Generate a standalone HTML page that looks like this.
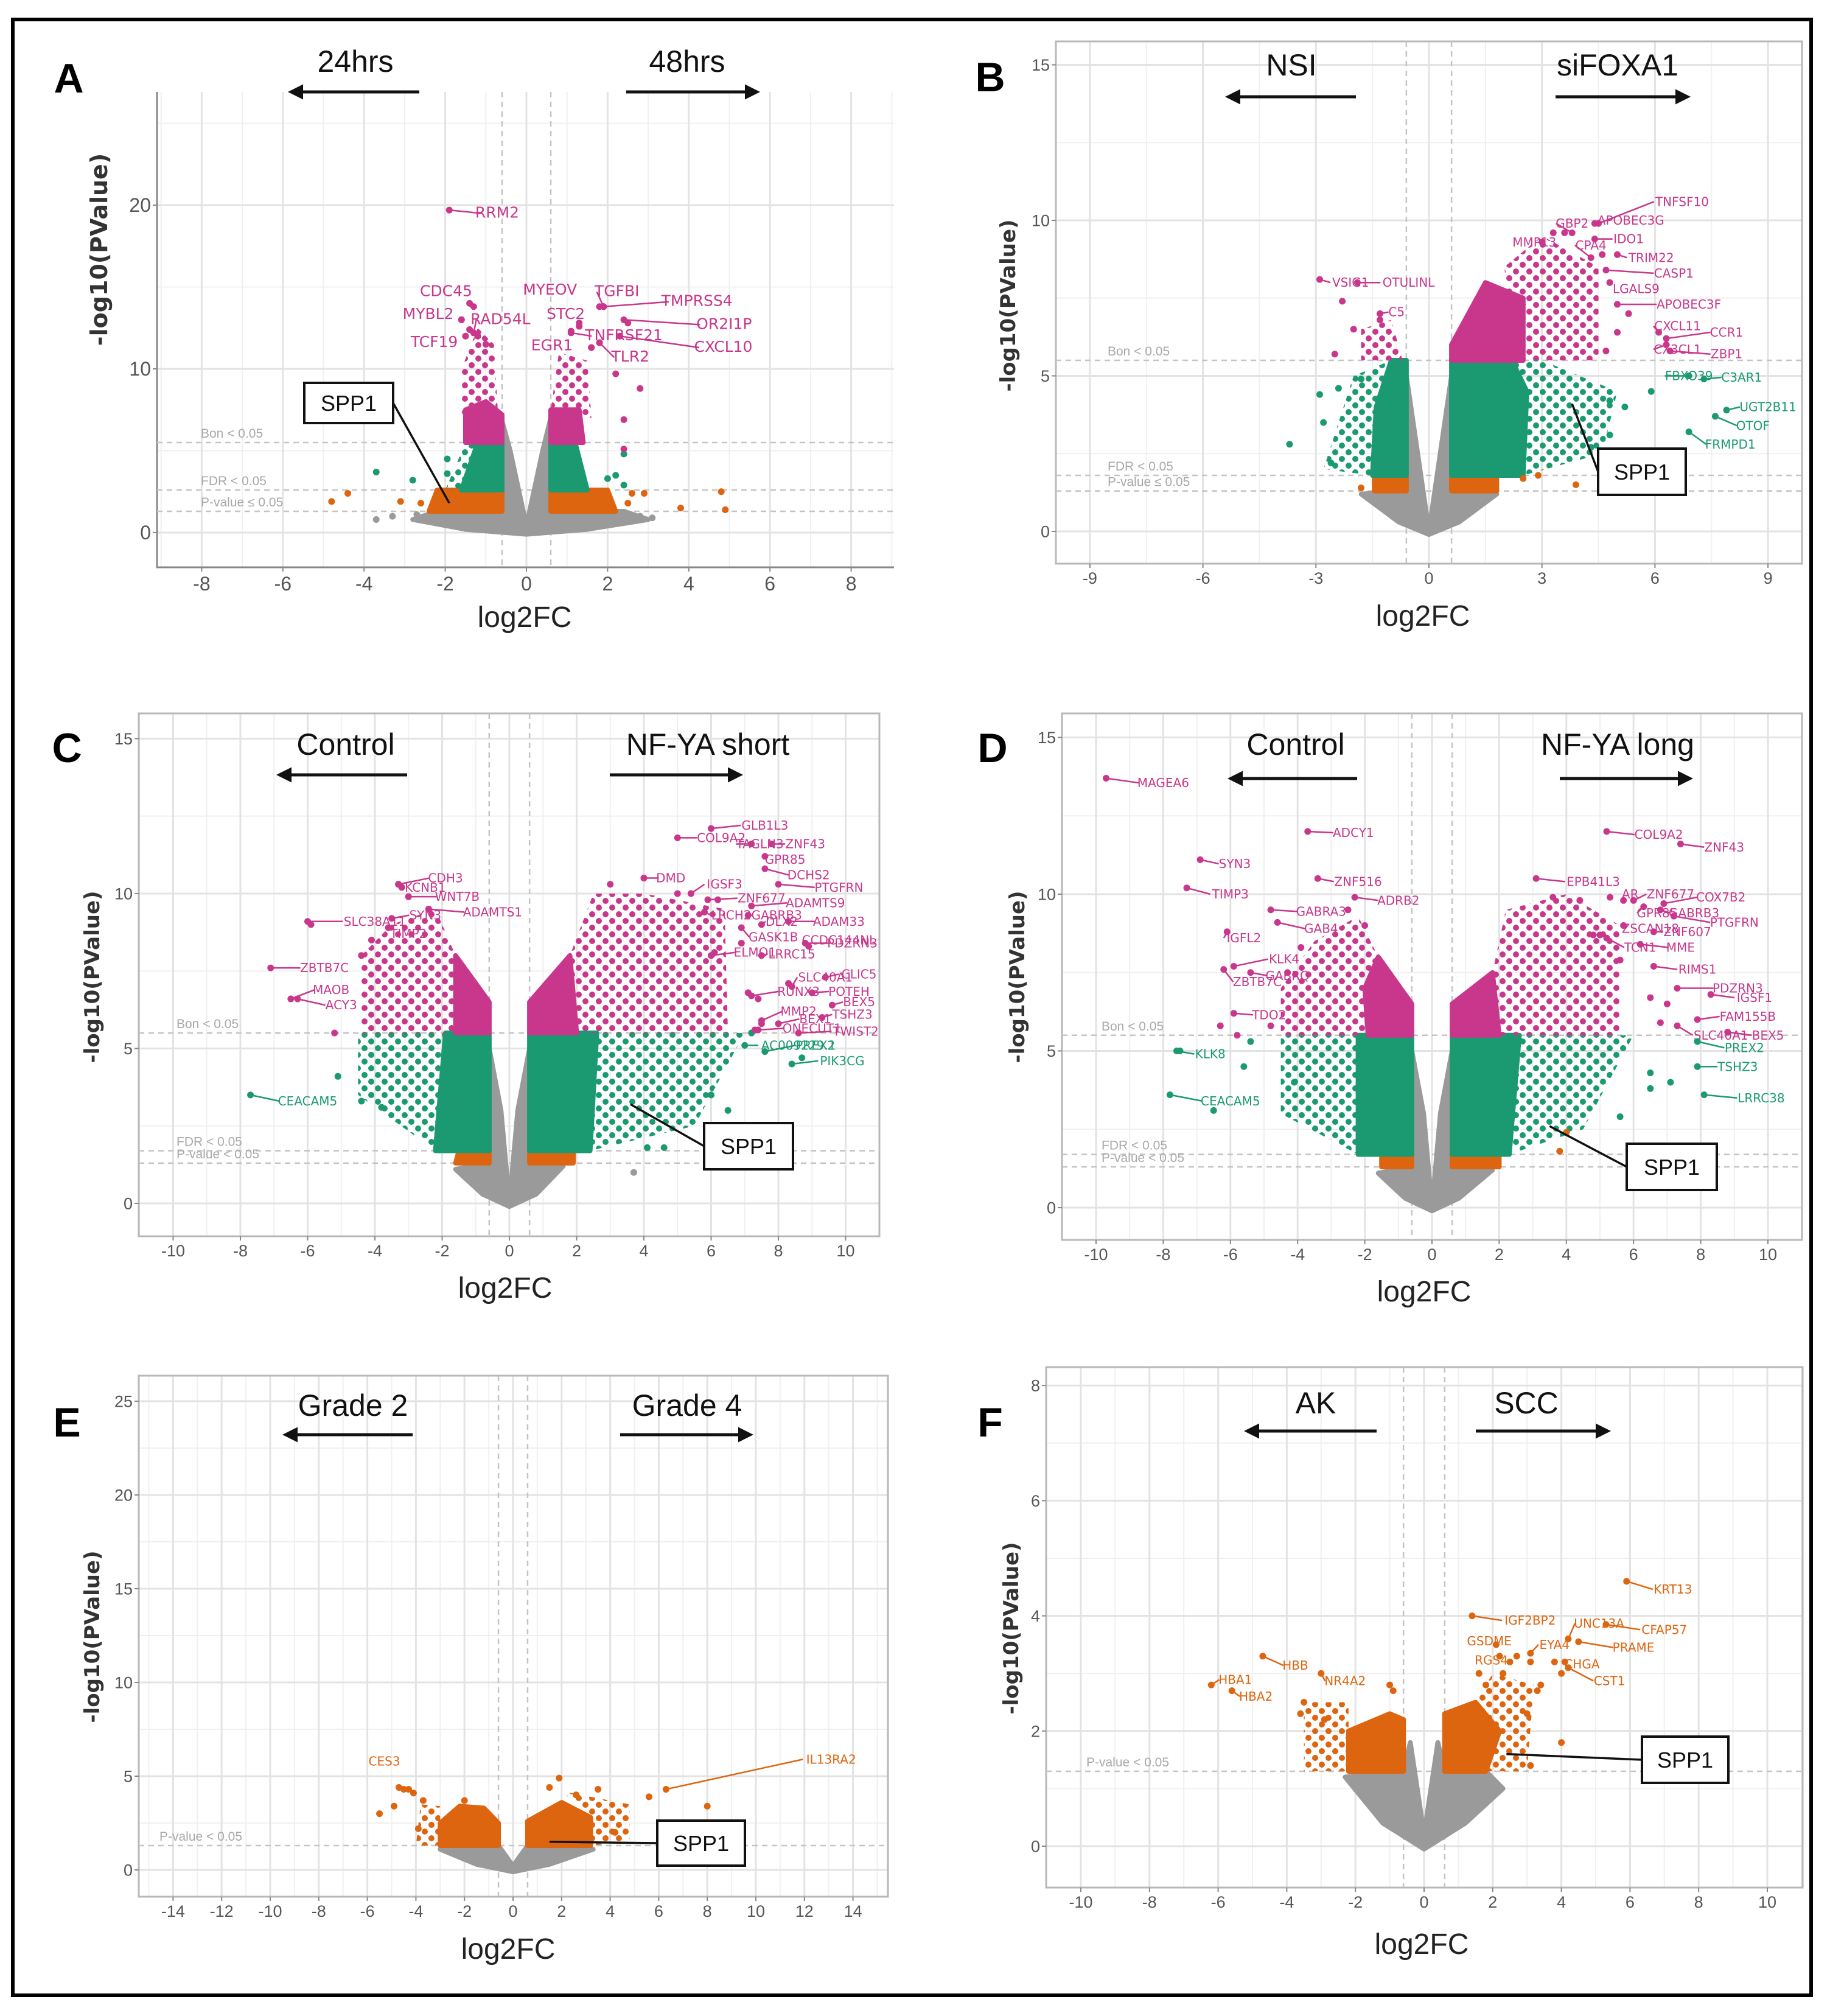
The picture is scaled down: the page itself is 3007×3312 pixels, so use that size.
<!DOCTYPE html>
<html><head><meta charset="utf-8"><title>Volcano plots A-F</title>
<style>
html,body{margin:0;padding:0;background:#fff;}
svg{display:block;}
</style></head>
<body>
<svg id="fig" xmlns="http://www.w3.org/2000/svg" width="3007" height="3312" viewBox="0 0 3007 3312">
<rect x="0" y="0" width="3007" height="3312" fill="#fff"/>
<rect x="21" y="32" width="2955" height="3246" fill="none" stroke="#000" stroke-width="6"/>
</svg>
<script>
// ---------- DATA ----------
// Panel A
const A_gene=["RRM2","CDC45","MYBL2","RAD54L","TCF19","MYEOV","TGFBI","TMPRSS4","STC2","OR2I1P","TNFRSF21","EGR1","CXCL10","TLR2"];
const A_gx=[-1.9,-1.4,-1.6,-1.3,-1.5,1.9,1.9,1.9,1.3,2.4,1.1,1.6,2.3,1.8];
const A_gy=[19.7,14.0,13.0,12.2,12.0,13.8,13.8,13.8,12.6,13.0,12.2,11.3,12.0,11.6];
const A_gc=["p","p","p","p","p","p","p","p","p","p","p","p","p","p"];
const A_lx=[-0.72,-1.98,-2.42,-0.64,-2.27,0.58,2.23,4.2,0.97,4.87,2.4,0.63,4.85,2.56];
const A_ly=[19.5,14.7,13.3,13.0,11.6,14.8,14.7,14.1,13.3,12.7,12.0,11.4,11.3,10.7];
const A_px=[-4.8,-4.4,-3.1,-2.6,2.6,2.9,3.8,4.8,4.9,2.5,-2.3,-3.7,-2.8,-1.95,-1.95,2.4,2.2,2.4,2.0,-3.7,-3.3,-2.7,3.1,2.8,-1.6,-1.3,-1.4,-1.2,-1.0,1.1,1.3,1.8,2.5,1.6,1.8,2.2,2.8,2.4,2.4];
const A_py=[1.9,2.4,1.9,1.8,2.4,2.4,1.5,2.5,1.4,1.8,1.5,3.7,3.2,4.5,3.6,4.8,3.5,2.9,3.3,0.8,1.0,1.1,0.9,1.0,13,13.8,12.4,12,11.5,12.3,12.8,13.8,12.8,11.3,11.6,9.7,8.8,6.9,5.1];
const A_pc=["o","o","o","o","o","o","o","o","o","o","o","g","g","g","g","g","g","g","g","x","x","x","x","x","p","p","p","p","p","p","p","p","p","p","p","p","p","p","p"];
const A_mass=[
 ["x","d",[[-2.8,0.8],[-2.2,1.3],[-0.6,1.3],[-0.6,6.8],[-0.4,5],[0,0.4],[0.4,5],[0.6,7],[0.6,1.3],[2.4,1.3],[3,0.8],[1.5,0.2],[0,-0.1],[-1.5,0.2]]],
 ["o","d",[[-2.4,1.3],[-0.6,1.3],[-0.6,2.6],[-2.2,2.6]]],
 ["o","d",[[0.6,1.3],[2.2,1.3],[2.0,2.6],[0.6,2.6]]],
 ["g","s",[[-2.0,2.6],[-1.6,2.6],[-1.2,5.5],[-1.5,5.5]]],
 ["g","d",[[-1.6,2.6],[-0.6,2.6],[-0.6,5.5],[-1.2,5.5]]],
 ["g","d",[[0.6,2.6],[1.5,2.6],[1.2,5.5],[0.6,5.5]]],
 ["p","d",[[-1.5,5.5],[-0.6,5.5],[-0.6,7.2],[-1.0,8],[-1.5,7.5]]],
 ["p","s",[[-1.6,7],[-0.7,7.2],[-0.8,11.5],[-1.2,12.5],[-1.6,10]]],
 ["p","d",[[0.6,5.5],[1.4,5.5],[1.3,7.5],[0.6,7.5]]],
 ["p","s",[[0.6,7.5],[1.6,7],[1.5,10.5],[0.8,11]]]
];
// Panel B
const B_gene=["TNFSF10","APOBEC3G","GBP2","MMP13","CPA4","IDO1","TRIM22","CASP1","LGALS9","APOBEC3F","CXCL11","CCR1","CX3CL1","ZBP1","FBXO39","C3AR1","UGT2B11","OTOF","FRMPD1","VSIG1","OTULINL","C5"];
const B_gx=[4.5,4.4,3.8,3.0,4.3,4.4,5.0,4.7,4.8,5.0,6.1,6.3,6.3,6.4,6.9,7.3,7.9,7.6,6.9,-2.9,-1.9,-1.3];
const B_gy=[9.9,9.9,9.6,9.3,8.8,9.4,8.9,8.4,8.0,7.3,6.4,6.2,6.0,5.8,5.0,4.9,3.9,3.7,3.2,8.1,8.0,7.0];
const B_gc=["p","p","p","p","p","p","p","p","p","p","p","p","p","p","g","g","g","g","g","p","p","p"];
const B_lx=[6.72,5.36,3.8,2.8,4.3,5.3,5.9,6.5,5.5,6.9,6.6,7.9,6.6,7.9,6.9,8.3,9.0,8.6,8.0,-2.08,-0.54,-0.86];
const B_ly=[10.6,10.0,9.9,9.3,9.2,9.4,8.8,8.3,7.8,7.3,6.6,6.4,5.85,5.7,5.0,4.95,4.0,3.4,2.8,8.0,8.0,7.05];
const B_px=[-3.7,-2.8,-2.6,-2.4,-2.9,5.9,5.2,4.8,4.8,-1.8,4.3,-1.8,2.5,2.9,3.9,-2.3,-2.5,-2.0,-1.3,3.3,3.6,4.6,5.3,4.7,5.0];
const B_py=[2.8,3.5,2.2,4.6,4.4,4.5,4.0,4.2,3.1,4.9,2.7,1.4,1.7,1.8,1.5,7.4,5.7,6.5,6.8,9.6,9.6,8.9,7.0,5.8,6.4];
const B_pc=["g","g","g","g","g","g","g","g","g","g","g","o","o","o","o","p","p","p","p","p","p","p","p","p","p"];
const B_mass=[
 ["x","d",[[-1.8,1.2],[-0.6,1.3],[-0.6,5],[0,0],[0.6,5],[0.6,1.3],[1.8,1.2],[0.8,0.3],[0,-0.1],[-0.8,0.3]]],
 ["o","d",[[-1.45,1.3],[-0.6,1.3],[-0.6,1.8],[-1.45,1.8]]],
 ["o","d",[[0.6,1.3],[1.8,1.3],[1.8,1.8],[0.6,1.8]]],
 ["g","s",[[-2.8,2],[-1.5,1.8],[-1.4,4],[-1.0,5.5],[-2,5]]],
 ["g","d",[[-1.5,1.8],[-0.6,1.8],[-0.6,5.5],[-1.0,5.5],[-1.4,4]]],
 ["g","s",[[2.5,1.8],[4.6,2.5],[5,4.5],[3,5.5],[2.2,5.5]]],
 ["g","d",[[0.6,1.8],[2.5,1.8],[2.6,4.5],[2.2,5.5],[0.6,5.5]]],
 ["p","s",[[-1.8,5.5],[-0.7,5.5],[-1,6.8],[-1.8,6.5]]],
 ["p","s",[[2.3,5.5],[4.5,5.5],[4.5,8.5],[3,9.5],[2,8.5]]],
 ["p","d",[[0.6,5.5],[2.5,5.5],[2.5,7.5],[1.5,8],[0.6,6]]]
];
// Panel C
const C_gene=["GLB1L3","COL9A2","TAGLN3","ZNF43","GPR85","DCHS2","PTGFRN","DMD","IGSF3","ZNF677","ADAMTS9","LRCH2","GABRB3","DLX2","ADAM33","GASK1B","CCDC144NL","PDZRN3","ELMO1","LRRC15","CLIC5","SLC40A1","RUNX3","POTEH","BEX5","MMP2","TSHZ3","BEX1","ONECUT1","TWIST2","AC009229.1","PREX2","PIK3CG","CDH3","KCNB1","WNT7B","ADAMTS1","SLC38A11","SYN3","TIMP2","ZBTB7C","MAOB","ACY3","CEACAM5"];
const C_gx=[6.0,5.0,7.2,7.8,7.6,7.6,8.0,4.0,5.4,5.9,7.2,5.8,7.1,7.5,8.3,6.9,8.9,8.8,6.0,7.5,9.4,8.4,7.2,9.0,9.6,7.5,9.3,8.0,7.4,8.6,7.0,7.6,8.4,-3.3,-3.2,-3.0,-2.4,-6.0,-3.5,-3.6,-7.1,-6.5,-6.3,-7.7];
const C_gy=[12.1,11.8,11.6,11.6,11.2,10.8,10.3,10.5,10.0,9.8,9.6,9.4,9.3,9.0,9.1,8.9,8.3,8.4,8.0,8.0,7.3,7.0,6.7,6.8,6.4,5.9,6.0,5.8,5.6,5.5,5.1,4.9,4.5,10.3,10.2,9.9,9.5,9.1,9.2,8.9,7.6,6.6,6.6,3.5];
const C_gc=["p","p","p","p","p","p","p","p","p","p","p","p","p","p","p","p","p","p","p","p","p","p","p","p","p","p","p","p","p","p","g","g","g","p","p","p","p","p","p","p","p","p","p","g"];
const C_lx=[7.6,6.3,7.45,8.8,8.2,8.9,9.8,4.8,6.4,7.5,9.1,6.6,7.95,8.1,9.8,7.85,9.8,10.2,7.3,8.4,10.4,9.4,8.6,10.1,10.4,8.6,10.2,9.1,9.0,10.3,8.6,9.1,9.9,-1.9,-2.5,-1.55,-0.5,-4.0,-2.5,-3.0,-5.5,-5.3,-5.0,-6.0];
const C_ly=[12.2,11.8,11.6,11.6,11.1,10.6,10.2,10.5,10.3,9.85,9.7,9.3,9.3,9.1,9.1,8.6,8.5,8.4,8.1,8.05,7.4,7.3,6.84,6.84,6.5,6.2,6.1,5.95,5.65,5.55,5.1,5.1,4.6,10.5,10.2,9.9,9.4,9.1,9.3,8.7,7.6,6.9,6.4,3.3];
const C_px=[-5.1,-4.4,-3.8,8.7,6.5,6.0,4.1,4.6,7.2,3.7,-5.9,-4.4,-4.1,-3.9,-5.2,-3.3,-3.0,-2.4,3.0,4.0,5.0,6.2,6.1,6.9,7.1,7.4,8.3,7.5,7.3];
const C_py=[4.1,3.3,3.1,4.7,3.0,3.5,1.8,1.8,5.5,1.0,9.0,8.0,8.5,7.6,5.5,10.3,9.9,9.5,10.3,10.5,10.0,9.8,8.1,8.4,6.8,6.6,7.1,5.8,5.6];
const C_pc=["g","g","g","g","g","g","g","g","g","x","p","p","p","p","p","p","p","p","p","p","p","p","p","p","p","p","p","p","p"];
const C_mass=[
 ["x","d",[[-1.6,1.1],[-0.6,1.3],[-0.6,5],[-0.25,3],[0,0],[0.25,3],[0.6,5],[0.6,1.3],[1.6,1.2],[0.8,0.3],[0,-0.1],[-0.8,0.3]]],
 ["o","d",[[-1.6,1.3],[-0.6,1.3],[-0.6,1.7],[-1.5,1.7]]],
 ["o","d",[[0.6,1.3],[1.9,1.3],[1.9,1.7],[0.6,1.7]]],
 ["g","s",[[-4.5,3.5],[-2.2,1.7],[-1.9,5.5],[-4.5,5.5]]],
 ["g","d",[[-2.2,1.7],[-0.6,1.7],[-0.6,5.5],[-1.9,5.5]]],
 ["g","s",[[2.4,1.7],[5.5,2.5],[7,5.5],[2.6,5.5]]],
 ["g","d",[[0.6,1.7],[2.4,1.7],[2.6,5.5],[0.6,5.5]]],
 ["p","s",[[-4.4,5.5],[-1.6,5.5],[-1.6,8],[-2.2,9.5],[-3.5,9],[-4.4,8]]],
 ["p","d",[[-1.6,5.5],[-0.6,5.5],[-0.6,6.5],[-1.6,8]]],
 ["p","s",[[2.0,5.5],[6.5,5.5],[6.4,9.5],[4,10],[2.5,10],[1.8,8]]],
 ["p","d",[[0.6,5.5],[2.0,5.5],[1.8,8],[0.6,6.5]]]
];
// Panel D
const D_gene=["MAGEA6","ADCY1","SYN3","TIMP3","ZNF516","ADRB2","GABRA3","GAB4","IGFL2","KLK4","GABRQ","ZBTB7C","TDO2","KLK8","CEACAM5","COL9A2","ZNF43","EPB41L3","AR","ZNF677","COX7B2","GPR85","GABRB3","PTGFRN","ZSCAN18","ZNF607","TCN1","MME","RIMS1","PDZRN3","IGSF1","FAM155B","SLC40A1","BEX5","PREX2","TSHZ3","LRRC38"];
const D_gx=[-9.7,-3.7,-6.9,-7.3,-3.4,-2.3,-4.8,-4.6,-6.1,-5.9,-5.4,-6.2,-5.9,-7.6,-7.8,5.2,7.4,3.1,5.7,6.0,6.9,6.3,6.8,7.2,5.7,6.6,5.2,6.2,6.6,7.3,8.3,7.9,7.3,8.8,7.9,7.9,8.1];
const D_gy=[13.7,12.0,11.1,10.2,10.5,9.9,9.5,9.1,8.8,7.7,7.5,7.6,6.2,5.0,3.6,12.0,11.6,10.5,9.8,9.8,9.7,9.6,9.5,9.3,9.0,8.8,8.6,8.4,7.7,7.0,6.8,6.0,5.8,5.6,5.3,4.5,3.6];
const D_gc=["p","p","p","p","p","p","p","p","p","p","p","p","p","g","g","p","p","p","p","p","p","p","p","p","p","p","p","p","p","p","p","p","p","p","g","g","g"];
const D_lx=[-8.0,-2.34,-5.87,-6.0,-2.2,-1.0,-3.3,-3.3,-5.6,-4.4,-4.3,-5.2,-4.85,-6.6,-6.0,6.75,8.7,4.8,5.9,7.1,8.6,6.7,7.8,9.0,6.5,7.6,6.2,7.4,7.9,9.1,9.6,9.4,8.6,10.0,9.3,9.1,9.8];
const D_ly=[13.55,11.96,10.97,10.0,10.4,9.8,9.45,8.9,8.6,7.93,7.4,7.2,6.15,4.9,3.4,11.9,11.5,10.4,10.0,10.0,9.9,9.4,9.4,9.1,8.9,8.8,8.3,8.3,7.6,7.0,6.7,6.1,5.5,5.5,5.1,4.5,3.5];
const D_px=[-6.5,-7.5,-5.6,-5.4,-4.1,6.5,6.5,7.1,5.6,3.8,4.0,-6.3,-5.8,-4.8,-3.9,-4.3,-2.5,-2.0,5.3,5.0,5.6,6.5,7.0,6.8,4.8,3.6,4.4];
const D_py=[3.1,5.0,4.5,5.3,4.0,3.8,4.3,4.0,2.9,1.8,2.4,5.8,5.5,5.8,8.3,7.5,9.5,9.0,9.9,8.7,7.9,6.7,6.5,5.9,8.7,9.9,9.8];
const D_pc=["g","g","g","g","g","g","g","g","g","o","o","p","p","p","p","p","p","p","p","p","p","p","p","p","p","p","p"];
const D_mass=[
 ["x","d",[[-1.6,1.1],[-0.6,1.3],[-0.6,5],[-0.25,3],[0,0],[0.25,3],[0.6,5],[0.6,1.3],[1.8,1.2],[0.8,0.3],[0,-0.1],[-0.8,0.3]]],
 ["o","d",[[-1.5,1.3],[-0.6,1.3],[-0.6,1.7],[-1.5,1.7]]],
 ["o","d",[[0.6,1.3],[2.0,1.3],[2.0,1.7],[0.6,1.7]]],
 ["g","s",[[-4.5,3],[-2.2,1.7],[-2.2,5.5],[-4.5,5.5]]],
 ["g","d",[[-2.2,1.7],[-0.6,1.7],[-0.6,5.5],[-2.2,5.5]]],
 ["g","s",[[2.3,1.7],[4.5,2.5],[6,5.5],[2.6,5.5]]],
 ["g","d",[[0.6,1.7],[2.3,1.7],[2.6,5.5],[0.6,5.5]]],
 ["p","s",[[-4.5,5.5],[-1.9,5.5],[-1.6,8],[-2.2,9.3],[-3.5,8.5],[-4.5,7]]],
 ["p","d",[[-1.9,5.5],[-0.6,5.5],[-0.6,6.5],[-1.6,8],[-2,7]]],
 ["p","s",[[2.0,5.5],[5.6,5.5],[5.6,9],[4,10],[2.2,9.5],[1.8,7.5]]],
 ["p","d",[[0.6,5.5],[2.0,5.5],[1.8,7.5],[0.6,6.5]]]
];
// Panel E
const E_gene=["CES3","IL13RA2"];
const E_gx=[-4.5,6.3];
const E_gy=[4.3,4.3];
const E_gc=["o","o"];
const E_lx=[-5.3,13.1];
const E_ly=[5.8,5.9];
const E_px=[-5.5,-4.9,-4.3,-4.1,-3.7,5.6,8.0,1.9,3.5,-2.0,-4.7,4.2,-3.9,2.6,1.5];
const E_py=[3.0,3.4,4.3,4.1,3.7,3.9,3.4,4.9,4.3,3.7,4.4,2.0,2.2,4.0,4.4];
const E_pc=["o","o","o","o","o","o","o","o","o","o","o","o","o","o","o"];
const E_mass=[
 ["x","d",[[-3,1.1],[-0.6,1.3],[0,0.2],[0.6,1.3],[3.3,1.1],[1.5,0.3],[0,-0.1],[-1.5,0.3]]],
 ["o","s",[[-4,1.3],[-3,1.3],[-3,3.4],[-3.8,3.5]]],
 ["o","s",[[3.2,1.3],[4.8,1.5],[4.8,3.5],[2,4.2],[3.2,2.8]]],
 ["o","d",[[-3,1.3],[-0.6,1.3],[-0.6,2.5],[-1.2,3.3],[-2.2,3.4],[-3,2.5]]],
 ["o","d",[[0.6,1.3],[3.2,1.3],[3.2,2.8],[2,3.6],[0.6,2.6]]]
];
// Panel F
const F_gene=["KRT13","IGF2BP2","UNC13A","CFAP57","GSDME","EYA4","PRAME","RGS4","CHGA","CST1","HBB","HBA1","HBA2","NR4A2"];
const F_gx=[5.9,1.4,4.2,5.3,2.1,3.1,4.5,2.2,4.1,4.2,-4.7,-6.2,-5.6,-3.0];
const F_gy=[4.6,4.0,3.6,3.85,3.5,3.35,3.55,3.3,3.2,3.1,3.3,2.8,2.7,3.0];
const F_gc=["o","o","o","o","o","o","o","o","o","o","o","o","o","o"];
const F_lx=[7.25,3.09,5.1,7.0,1.9,3.8,6.1,1.96,4.6,5.4,-3.75,-5.5,-4.9,-2.3];
const F_ly=[4.46,3.92,3.87,3.76,3.56,3.5,3.45,3.23,3.16,2.87,3.14,2.89,2.6,2.87];
const F_px=[-3.5,-3.6,-2.9,-1.0,-0.9,2.3,2.5,2.7,3.1,3.4,3.3,3.8,4.0,3.0,4.0,3.1,1.8,1.6];
const F_py=[2.5,2.3,2.2,2.8,2.7,3.0,3.2,3.3,3.2,2.8,2.7,3.2,3.0,2.3,1.8,1.4,2.8,3.0];
const F_pc=["o","o","o","o","o","o","o","o","o","o","o","o","o","o","o","o","o","o"];
const F_mass=[
 ["x","d",[[-2.3,1.2],[-1.0,1.3],[-0.6,1.3],[-0.4,1.8],[0,0.2],[0.4,1.8],[0.6,1.3],[1.8,1.3],[2.3,1.0],[1.2,0.4],[0,-0.05],[-1.2,0.4]]],
 ["o","s",[[-3.5,1.3],[-2.2,1.3],[-2.2,2.5],[-3.5,2.5]]],
 ["o","s",[[1.8,1.3],[3,1.3],[3.2,2.8],[2,3.0],[1.5,2.5]]],
 ["o","d",[[-2.2,1.3],[-0.6,1.3],[-0.6,2.2],[-1.0,2.3],[-2.2,2.0]]],
 ["o","d",[[0.6,1.3],[1.8,1.3],[2.2,2.0],[1.5,2.5],[0.6,2.3]]]
];
// Axis tick values
const A_xt=[-8,-6,-4,-2,0,2,4,6,8], A_yt=[0,10,20];
const B_xt=[-9,-6,-3,0,3,6,9], B_yt=[0,5,10,15];
const C_xt=[-10,-8,-6,-4,-2,0,2,4,6,8,10], C_yt=[0,5,10,15];
const D_xt=[-10,-8,-6,-4,-2,0,2,4,6,8,10], D_yt=[0,5,10,15];
const E_xt=[-14,-12,-10,-8,-6,-4,-2,0,2,4,6,8,10,12,14], E_yt=[0,5,10,15,20,25];
const F_xt=[-10,-8,-6,-4,-2,0,2,4,6,8,10], F_yt=[0,2,4,6,8];
const A_thr=[5.5,2.6,1.3], A_thrLab=["Bon < 0.05","FDR < 0.05","P-value ≤ 0.05"];
const B_thr=[5.5,1.8,1.3], B_thrLab=["Bon < 0.05","FDR < 0.05","P-value ≤ 0.05"];
const C_thr=[5.5,1.7,1.3], C_thrLab=["Bon < 0.05","FDR < 0.05","P-value < 0.05"];
const D_thr=[5.5,1.7,1.3], D_thrLab=["Bon < 0.05","FDR < 0.05","P-value < 0.05"];
const E_thr=[1.3], E_thrLab=["P-value < 0.05"];
const F_thr=[1.3], F_thrLab=["P-value < 0.05"];
const A_spp1=[-1.9,1.8], B_spp1=[3.8,4.1], C_spp1=[3.6,3.2], D_spp1=[3.5,2.6], E_spp1=[1.5,1.5], F_spp1=[2.4,1.6];

// ---------- LAYOUT ----------
const LAY={
 A:{x0:865,xs:66.7,y0:875,ys:26.9,rect:[258,151,1469,932],xmin:-1,ystep:5,xstep:1,border:false,letter:[113,152],
    tl:["24hrs",584,118,689,483,151],tr:["48hrs",1129,118,1029,1239,151],yt:[176,410],xtl:[862,1030],thx:330,box:[500,629,146,66],tickfs:32},
 B:{x0:2348,xs:61.9,y0:873,ys:51.1,rect:[1735,68,2961,926],ystep:2.5,xstep:1.5,border:true,letter:[1627,150],
    tl:["NSI",2122,124,2228,2023,159],tr:["siFOXA1",2658,124,2556,2768,159],yt:[1668,502],xtl:[2338,1028],thx:1820,box:[2626,737,144,76],tickfs:27},
 C:{x0:837,xs:55.25,y0:1977,ys:50.9,rect:[228,1172,1445,2031],ystep:2.5,xstep:1,border:true,letter:[110,1252],
    tl:["Control",568,1240,669,464,1273],tr:["NF-YA short",1163,1240,1002,1211,1273],yt:[163,1605],xtl:[830,2132],thx:290,box:[1157,1845,146,76],tickfs:27},
 D:{x0:2353,xs:55.2,y0:1984,ys:51.5,rect:[1745,1172,2961,2037],ystep:2.5,xstep:1,border:true,letter:[1631,1252],
    tl:["Control",2129,1240,2230,2027,1279],tr:["NF-YA long",2658,1240,2563,2772,1279],yt:[1683,1605],xtl:[2340,2138],thx:1810,box:[2673,1879,148,76],tickfs:27},
 E:{x0:843,xs:39.9,y0:3072,ys:30.8,rect:[228,2260,1459,3116],ystep:2.5,xstep:1,border:true,letter:[110,2360],
    tl:["Grade 2",580,2326,678,474,2357],tr:["Grade 4",1129,2326,1019,1228,2357],yt:[163,2689],xtl:[835,3218],thx:262,box:[1080,2991,144,74],tickfs:27},
 F:{x0:2340,xs:56.4,y0:3033,ys:94.6,rect:[1719,2246,2962,3101],ystep:1,xstep:1,border:true,letter:[1627,2360],
    tl:["AK",2162,2322,2262,2054,2351],tr:["SCC",2508,2322,2425,2637,2351],yt:[1673,2675],xtl:[2336,3210],thx:1785,box:[2698,2853,142,76],tickfs:27}
};
const COL={p:"#c8378c",g:"#1b9a72",o:"#dd6510",x:"#9a9a9a"};
const NS="http://www.w3.org/2000/svg";
const svg=document.getElementById("fig");
function mk(tag,attrs,parent){const e=document.createElementNS(NS,tag);for(const k in attrs)e.setAttribute(k,attrs[k]);parent.appendChild(e);return e;}

// patterns
const defs=mk("defs",{},svg);
for(const c in COL){
  const pat=mk("pattern",{id:"pat-"+c,width:22,height:22,patternUnits:"userSpaceOnUse"},defs);
  mk("circle",{cx:5,cy:6,r:5,fill:COL[c]},pat);
  mk("circle",{cx:16,cy:17,r:5,fill:COL[c]},pat);
}
// arrowhead
const mkr=mk("marker",{id:"arrowhead",markerWidth:6,markerHeight:6,refX:3,refY:3,orient:"auto",markerUnits:"strokeWidth"},defs);
mk("path",{d:"M0,0.5 L5,3 L0,5.5 Z",fill:"#111"},mkr);

function drawPanel(id,L,gene,gx,gy,gc,lx,ly,px,py,pc,mass,xt,yt,thr,thrLab,spp1){
  const X=v=>L.x0+v*L.xs, Y=v=>L.y0-v*L.ys;
  const [l,t,r,b]=L.rect;
  const g=mk("g",{},svg);
  
  
  const cp=mk("clipPath",{id:"clip-"+id},defs);
  mk("rect",{x:l,y:t,width:r-l,height:b-t},cp);
  // minor + major grid
  const grid=mk("g",{},g);
  
  
  const xlo=(l-L.x0)/L.xs, xhi=(r-L.x0)/L.xs, ylo=(L.y0-b)/L.ys, yhi=(L.y0-t)/L.ys;
  for(let v=Math.ceil(xlo/L.xstep)*L.xstep; v<=xhi; v+=L.xstep){
    const ln=mk("line",{x1:X(v),x2:X(v),y1:t,y2:b,stroke:"#f0f0f0","stroke-width":2},grid);
    
    
  }
  for(let v=Math.ceil(ylo/L.ystep)*L.ystep; v<=yhi; v+=L.ystep){
    const ln=mk("line",{x1:l,x2:r,y1:Y(v),y2:Y(v),stroke:"#f0f0f0","stroke-width":2},grid);
    
    
  }
  xt.forEach(v=>{
    const ln=mk("line",{x1:X(v),x2:X(v),y1:t,y2:b,stroke:"#e3e3e3","stroke-width":3},grid);
    
    
  });
  yt.forEach(v=>{
    const ln=mk("line",{x1:l,x2:r,y1:Y(v),y2:Y(v),stroke:"#e3e3e3","stroke-width":3},grid);
    
    
  });
  // border / axes
  if(L.border){
    const br=mk("rect",{x:l,y:t,width:r-l,height:b-t,fill:"none",stroke:"#b8b8b8","stroke-width":3},g);
    
    
  }else{
    const ax=mk("path",{d:`M${l},${t} L${l},${b} L${r},${b}`,fill:"none",stroke:"#888","stroke-width":3},g);
    
    
  }
  // ticks
  xt.forEach(v=>{
    const tk=mk("line",{x1:X(v),x2:X(v),y1:b,y2:b+7,stroke:"#888","stroke-width":2},g);
    
    
    const tx=mk("text",{x:X(v),y:b+L.tickfs+6,"text-anchor":"middle","font-size":L.tickfs,fill:"#555","font-family":"'Liberation Sans Narrow','Liberation Sans',sans-serif"},g);
    tx.textContent=String(v);
    
    
  });
  yt.forEach(v=>{
    const tk=mk("line",{x1:l-7,x2:l,y1:Y(v),y2:Y(v),stroke:"#888","stroke-width":2},g);
    
    
    const tx=mk("text",{x:l-10,y:Y(v)+L.tickfs*0.35,"text-anchor":"end","font-size":L.tickfs,fill:"#555","font-family":"'Liberation Sans Narrow','Liberation Sans',sans-serif"},g);
    tx.textContent=String(v);
    
    
  });
  // threshold & fold-change lines
  thr.forEach((v,i)=>{
    const ln=mk("line",{x1:l,x2:r,y1:Y(v),y2:Y(v),stroke:"#c4c4c4","stroke-width":2.5,"stroke-dasharray":"9 7"},g);
    
    
    const tx=mk("text",{x:L.thx,y:Y(v)-8,"font-size":21,fill:"#a8a8a8","font-family":"'Liberation Sans Narrow','Liberation Sans',sans-serif"},g);
    tx.textContent=thrLab[i];
    
    
  });
  [-0.6,0.6].forEach(v=>{
    const ln=mk("line",{x1:X(v),x2:X(v),y1:t,y2:b,stroke:"#c4c4c4","stroke-width":2.5,"stroke-dasharray":"9 7"},g);
    
    
  });
  // data
  const dg=mk("g",{"clip-path":`url(#clip-${id})`},g);
  
  
  mass.forEach(m=>{
    const pts=m[2].map(p=>X(p[0]).toFixed(1)+","+Y(p[1]).toFixed(1)).join(" ");
    const fill=m[1]==="d"?COL[m[0]]:`url(#pat-${m[0]})`;
    const pg=mk("polygon",{points:pts,fill:fill,stroke:m[1]==="d"?COL[m[0]]:"none","stroke-width":8,"stroke-linejoin":"round"},dg);
    
    
  });
  px.forEach((v,i)=>{
    const c=mk("circle",{cx:X(v),cy:Y(py[i]),r:5.5,fill:COL[pc[i]]},dg);
    
    
  });
  // labelled genes
  gene.forEach((nm,i)=>{
    const cx=X(gx[i]), cy=Y(gy[i]), tx0=X(lx[i]), ty0=Y(ly[i]);
    const hw=nm.length*6.6;
    const dir=tx0>=cx?1:-1;
    const ex=tx0-dir*hw, ey=ty0;
    if(Math.abs(ex-cx)*dir>4){
      const ln=mk("line",{x1:cx,y1:cy,x2:ex,y2:ey,stroke:COL[gc[i]],"stroke-width":2.5},g);
      
      
    }
    const c=mk("circle",{cx:cx,cy:cy,r:5.5,fill:COL[gc[i]]},g);
    
    
    const tx=mk("text",{x:tx0,y:ty0+7,"text-anchor":"middle","font-size":id==="A"?25:20,fill:COL[gc[i]],"font-family":"'DejaVu Sans',sans-serif"},g);
    tx.textContent=nm;
    
    
  });
  // SPP1 callout
  const [bx,by,bw,bh]=L.box;
  const sx=X(spp1[0]), sy=Y(spp1[1]);
  const tgx=Math.max(bx,Math.min(bx+bw,sx)), tgy=sy<by?by:(sy>by+bh?by+bh:sy);
  const cl=mk("line",{x1:sx,y1:sy,x2:(sx<bx?bx:(sx>bx+bw?bx+bw:tgx)),y2:(sx>=bx&&sx<=bx+bw)?tgy:by+bh/2,stroke:"#111","stroke-width":3.5},g);
  
  
  const rb=mk("rect",{x:bx,y:by,width:bw,height:bh,fill:"#fff",stroke:"#111","stroke-width":4},g);
  
  
  const rt=mk("text",{x:bx+bw/2,y:by+bh/2+13,"text-anchor":"middle","font-size":36,fill:"#111","font-family":"'Liberation Sans',sans-serif"},g);
  rt.textContent="SPP1";
  
  
  // group titles + arrows
  [L.tl,L.tr].forEach((tt,k)=>{
    const tx=mk("text",{x:tt[1],y:tt[2],"text-anchor":"middle","font-size":50,fill:"#111","font-family":"'Liberation Sans Narrow','Liberation Sans',sans-serif"},g);
    tx.textContent=tt[0];
    
    
    const ar=mk("line",{x1:tt[3],y1:tt[5],x2:tt[4],y2:tt[5],stroke:"#111","stroke-width":5,"marker-end":"url(#arrowhead)"},g);
    
    
  });
  // axis titles
  const yt2=mk("text",{x:L.yt[0],y:L.yt[1],transform:`rotate(-90 ${L.yt[0]} ${L.yt[1]})`,"text-anchor":"middle","font-size":id==="A"?38:34,"font-weight":"bold",fill:"#333","font-family":"'DejaVu Sans',sans-serif"},g);
  yt2.textContent="-log10(PValue)";
  
  
  const xt2=mk("text",{x:L.xtl[0],y:L.xtl[1],"text-anchor":"middle","font-size":48,fill:"#222","font-family":"'Liberation Sans Narrow','Liberation Sans',sans-serif"},g);
  xt2.textContent="log2FC";
  
  
  const lt=mk("text",{x:L.letter[0],y:L.letter[1],"text-anchor":"middle","font-size":68,"font-weight":"bold",fill:"#000","font-family":"'Liberation Sans',sans-serif"},g);
  lt.textContent=id;
  
  
}
drawPanel("A",LAY.A,A_gene,A_gx,A_gy,A_gc,A_lx,A_ly,A_px,A_py,A_pc,A_mass,A_xt,A_yt,A_thr,A_thrLab,A_spp1);
drawPanel("B",LAY.B,B_gene,B_gx,B_gy,B_gc,B_lx,B_ly,B_px,B_py,B_pc,B_mass,B_xt,B_yt,B_thr,B_thrLab,B_spp1);
drawPanel("C",LAY.C,C_gene,C_gx,C_gy,C_gc,C_lx,C_ly,C_px,C_py,C_pc,C_mass,C_xt,C_yt,C_thr,C_thrLab,C_spp1);
drawPanel("D",LAY.D,D_gene,D_gx,D_gy,D_gc,D_lx,D_ly,D_px,D_py,D_pc,D_mass,D_xt,D_yt,D_thr,D_thrLab,D_spp1);
drawPanel("E",LAY.E,E_gene,E_gx,E_gy,E_gc,E_lx,E_ly,E_px,E_py,E_pc,E_mass,E_xt,E_yt,E_thr,E_thrLab,E_spp1);
drawPanel("F",LAY.F,F_gene,F_gx,F_gy,F_gc,F_lx,F_ly,F_px,F_py,F_pc,F_mass,F_xt,F_yt,F_thr,F_thrLab,F_spp1);
</script>
</body></html>
